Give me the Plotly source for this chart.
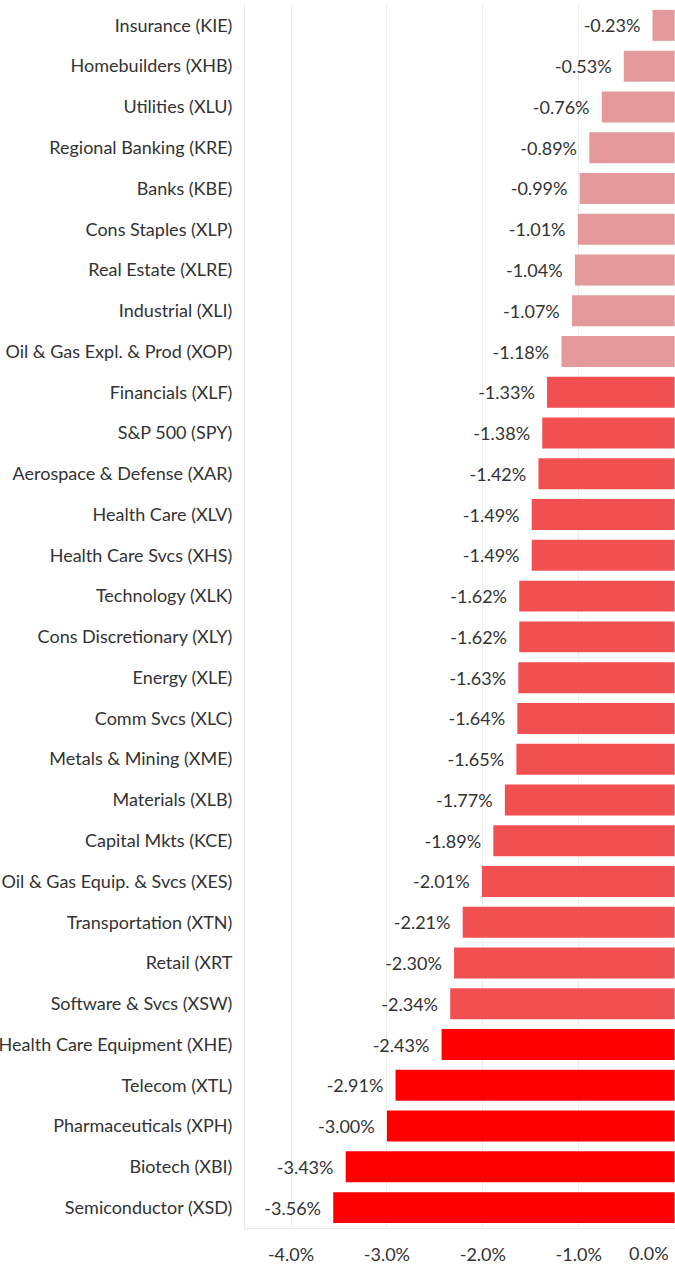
import plotly.graph_objects as go

categories = [
    "Insurance (KIE)", "Homebuilders (XHB)", "Utilities (XLU)", "Regional Banking (KRE)",
    "Banks (KBE)", "Cons Staples (XLP)", "Real Estate (XLRE)", "Industrial (XLI)",
    "Oil & Gas Expl. & Prod (XOP)", "Financials (XLF)", "S&P 500 (SPY)",
    "Aerospace & Defense (XAR)", "Health Care (XLV)", "Health Care Svcs (XHS)",
    "Technology (XLK)", "Cons Discretionary (XLY)", "Energy (XLE)", "Comm Svcs (XLC)",
    "Metals & Mining (XME)", "Materials (XLB)", "Capital Mkts (KCE)",
    "Oil & Gas Equip. & Svcs (XES)", "Transportation (XTN)", "Retail (XRT",
    "Software & Svcs (XSW)", "Health Care Equipment (XHE)", "Telecom (XTL)",
    "Pharmaceuticals (XPH)", "Biotech (XBI)", "Semiconductor (XSD)",
]
values = [
    -0.23, -0.53, -0.76, -0.89, -0.99, -1.01, -1.04, -1.07, -1.18, -1.33,
    -1.38, -1.42, -1.49, -1.49, -1.62, -1.62, -1.63, -1.64, -1.65, -1.77,
    -1.89, -2.01, -2.21, -2.30, -2.34, -2.43, -2.91, -3.00, -3.43, -3.56,
]
tick_values = [-4.0, -3.0, -2.0, -1.0, 0.0]
tick_labels = ["-4.0%", "-3.0%", "-2.0%", "-1.0%", "0.0%"]

def bar_color(v):
    if v > -1.25:
        return "#E49A9A"
    if v > -2.4:
        return "#F24F51"
    return "#FF0000"

colors = [bar_color(v) for v in values]
FONT = "Lato"
FS = 18

fig = go.Figure(go.Bar(
    x=values, y=categories, orientation="h",
    marker=dict(color=colors, line=dict(width=0)),
    texttemplate="%{x:.2f}%\u00a0\u00a0", textposition="outside",
    textfont=dict(family=FONT, size=FS, color="#333333"),
    cliponaxis=False, width=0.76,
))

# edge tick label (0.0%) is kept inside the page, right-aligned to its tick
fig.add_annotation(
    x=tick_values[-1], xref="x", y=0, yref="paper",
    text=tick_labels[-1], showarrow=False,
    xanchor="right", yanchor="middle", xshift=-4, yshift=-25,
    font=dict(family=FONT, size=FS, color="#333333"),
)

fig.update_layout(
    width=675, height=1266,
    margin=dict(l=245, r=0, t=5, b=38),
    plot_bgcolor="white", paper_bgcolor="white",
    font=dict(family=FONT, size=FS, color="#333333"),
    showlegend=False,
)
fig.update_xaxes(
    range=[-4.48, 0.004], tickvals=tick_values[:-1], ticktext=tick_labels[:-1],
    automargin=False,
    showgrid=True, gridcolor="#EDEDED", gridwidth=1,
    zeroline=False, showline=True, linecolor="#E6E6E6", linewidth=1,
    ticks="outside", ticklen=10, tickcolor="rgba(0,0,0,0)",
    tickfont=dict(family=FONT, size=FS, color="#333333"),
)
fig.update_yaxes(
    autorange="reversed", showgrid=False, zeroline=False, automargin=False,
    showline=True, linecolor="#E6E6E6", linewidth=1,
    ticks="outside", ticklen=8, tickcolor="rgba(0,0,0,0)",
    tickfont=dict(family=FONT, size=FS, color="#333333"),
)

fig.write_html("out.html", config={"displayModeBar": False},
               post_script="document.body.style.margin='0';")
